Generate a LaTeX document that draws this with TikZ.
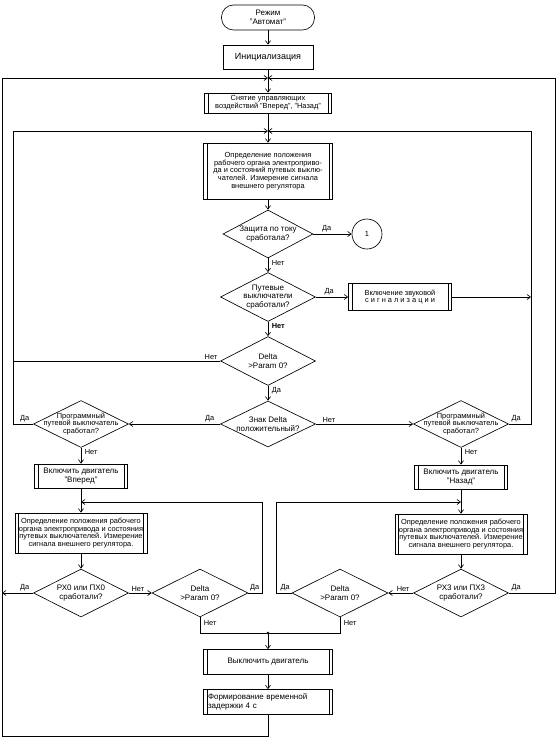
\documentclass[tikz,border=0pt]{standalone}
\usepackage{fontspec}
\setmainfont{Liberation Sans}
\usetikzlibrary{arrows.meta,shapes.geometric}
\newcommand\fsz{\fontsize{7.4}{7.8}\selectfont}
\newcommand\fszb{\fontsize{8}{8.6}\selectfont}
\begin{document}
\begin{tikzpicture}[x=1pt,y=-1pt, line width=0.65pt,
 arr/.style={-{Straight Barb[length=3.5pt,width=5pt]}},
 base/.style={draw, font=\fsz, align=center, inner sep=1pt},
 box/.style 2 args={base, rectangle, minimum width=#1, minimum height=#2},
 pp/.style 2 args={box={#1}{#2}, path picture={
   \draw ([xshift=3.5pt]path picture bounding box.north west) -- ([xshift=3.5pt]path picture bounding box.south west)
         ([xshift=-3.5pt]path picture bounding box.north east) -- ([xshift=-3.5pt]path picture bounding box.south east);}},
 dia/.style 2 args={draw, diamond, inner sep=0pt, minimum width=#1, minimum height=#2},
 dtxt/.style={font=\fsz, align=center, inner sep=0pt},
 lbl/.style={font=\fsz, inner sep=0.5pt},
]
\useasboundingbox (0,0) rectangle (558,739);
\fill[white] (0,0) rectangle (558,739);

% nodes
\node[base, rectangle, rounded corners=12pt, minimum width=93pt, minimum height=25pt, font=\fszb] (start) at (268,17.5) {Режим\\"Автомат"};
\node[box={90pt}{24pt}, font=\fontsize{9}{9.5}\selectfont] (init) at (268,57) {Инициализация};
\coordinate (j1) at (268,78);
\node[pp={127pt}{20pt}] (snyat) at (268,103) {Снятие управляющих\\воздействий "Вперед", "Назад"};
\coordinate (j2) at (268,131);
\node[pp={129pt}{56pt}] (opr) at (268,171) {Определение положения\\рабочего органа электроприво-\\да и состояний путевых выклю-\\чателей. Измерение сигнала\\внешнего регулятора};
\node[dia={90pt}{48pt}, label={[dtxt,font=\fszb]center:{Защита по току\\сработала?}}] (zashch) at (268,234) {};
\node[base, circle, minimum size=30pt] (c1) at (367,234) {1};
\node[dia={95pt}{49pt}, label={[dtxt,font=\fszb]center:{Путевые\\выключатели\\сработали?}}] (putev) at (268,297) {};
\node[pp={103pt}{27pt}] (vkl) at (400,297) {Включение звуковой\\с и г н а л и з а ц и и};
\node[dia={95pt}{49pt}, label={[dtxt,font=\fszb]center:{Delta\\>Param 0?}}] (delta) at (268,361) {};
\node[dia={95pt}{46pt}, label={[dtxt,font=\fszb]center:{Знак Delta\\положительный?}}] (znak) at (268,424) {};
\node[dia={95pt}{47pt}, label={[dtxt]center:{Программный\\путевой выключатель\\сработал?}}] (progL) at (81,424) {};
\node[dia={95pt}{47pt}, label={[dtxt]center:{Программный\\путевой выключатель\\сработал?}}] (progR) at (461,424) {};
\node[pp={93pt}{24pt}, font=\fszb] (vper) at (81,476) {Включить двигатель\\"Вперед"};
\node[pp={93pt}{24pt}, font=\fszb] (nazad) at (461,477) {Включить двигатель\\"Назад"};
\node[pp={132pt}{40pt}] (oprL) at (81,533) {Определение положения рабочего\\органа электропривода и состояния\\путевых выключателей. Измерение\\сигнала внешнего регулятора.};
\node[pp={132pt}{40pt}] (oprR) at (461,534) {Определение положения рабочего\\органа электропривода и состояния\\путевых выключателей. Измерение\\сигнала внешнего регулятора.};
\node[dia={95pt}{48pt}, label={[dtxt,font=\fszb]center:{РХ0 или ПХ0\\сработали?}}] (rx0) at (81,593) {};
\node[dia={96pt}{48pt}, label={[dtxt,font=\fszb]center:{Delta\\>Param 0?}}] (dL) at (200,593) {};
\node[dia={95pt}{48pt}, label={[dtxt,font=\fszb]center:{РХ3 или ПХ3\\сработали?}}] (rx3) at (461,593) {};
\node[dia={96pt}{48pt}, label={[dtxt,font=\fszb]center:{Delta\\>Param 0?}}] (dR) at (340,593) {};
\coordinate (j3) at (268,633);
\node[pp={129pt}{25pt}, font=\fszb] (off) at (268,662) {Выключить двигатель};
\node[pp={129pt}{25pt}, font=\fszb, align=left, text width=120pt] (delay) at (268,702) {Формирование временной\\задержки 4 с};

% loop corners
\coordinate (oBL) at (2,736);
\coordinate (oTR) at (555,78);
\coordinate (iTL) at (13,131);
\coordinate (iTR) at (531,131);
\coordinate (lbk) at (262,502);
\coordinate (rbk) at (276,502);

% connectors
\draw[arr] (start) -- (init);
\draw[arr] (init) -- (snyat);
\draw[arr] (delay.south) |- (oBL) |- (j1);
\draw[arr] (rx3.east) -| (oTR) -- (j1);
\draw[arr] (snyat) -- (opr);
\draw[arr] (progL.west) -| (iTL) -- (j2);
\draw[arr] (progR.east) -| (iTR) -- (j2);
\draw[arr] (opr) -- (zashch);
\draw[arr] (zashch) -- (c1);
\draw[arr] (zashch) -- (putev);
\draw[arr] (putev) -- (vkl);
\draw[arr] (vkl.east) -- (vkl.east -| iTR);
\draw[arr] (putev) -- (delta);
\draw (delta.west) -- (delta.west -| iTL);
\draw[arr] (delta) -- (znak);
\draw[arr] (znak.west) -- (progL.east);
\draw[arr] (znak.east) -- (progR.west);
\draw[arr] (progL) -- (vper);
\draw[arr] (progR) -- (nazad);
\draw[arr] (vper) -- (oprL);
\draw[arr] (nazad) -- (oprR);
\draw[arr] (oprL) -- (rx0);
\draw[arr] (oprR) -- (rx3);
\draw[arr] (rx0.west) -- (rx0.west -| oBL);
\draw[arr] (rx0.east) -- (dL.west);
\draw[arr] (rx3.west) -- (dR.east);
\draw[arr] (dL.east) -| (lbk) -- (lbk -| vper.south);
\draw[arr] (dR.west) -| (rbk) -- (rbk -| nazad.south);
\draw (dL.south) |- (j3);
\draw (dR.south) |- (j3);
\fill (j3) circle (1.3pt);
\draw[arr] (j3) -- (off);
\draw[arr] (off) -- (delay);

% branch labels
\node[lbl, anchor=south west] at ([xshift=8pt,yshift=1pt]zashch.east) {Да};
\node[lbl, anchor=north west] at ([xshift=3pt,yshift=-1pt]zashch.south) {Нет};
\node[lbl, anchor=south west] at ([xshift=8pt,yshift=1pt]putev.east) {Да};
\node[lbl, anchor=north west, font=\fsz\bfseries] at ([xshift=3pt,yshift=-1pt]putev.south) {Нет};
\node[lbl, anchor=south east] at ([xshift=-2pt,yshift=1pt]delta.west) {Нет};
\node[lbl, anchor=north west] at ([xshift=3pt,yshift=-1pt]delta.south) {Да};
\node[lbl, anchor=south east] at ([xshift=-5pt,yshift=1pt]znak.west) {Да};
\node[lbl, anchor=south west] at ([xshift=6pt,yshift=1pt]znak.east) {Нет};
\node[lbl, anchor=south east] at ([xshift=-3pt,yshift=1pt]progL.west) {Да};
\node[lbl, anchor=north west] at ([xshift=3pt,yshift=-1pt]progL.south) {Нет};
\node[lbl, anchor=south west] at ([xshift=2pt,yshift=1pt]progR.east) {Да};
\node[lbl, anchor=north west] at ([xshift=3pt,yshift=-1pt]progR.south) {Нет};
\node[lbl, anchor=south east] at ([xshift=-3pt,yshift=1pt]rx0.west) {Да};
\node[lbl, anchor=south west] at ([xshift=2pt,yshift=1pt]rx0.east) {Нет};
\node[lbl, anchor=south west] at ([xshift=1pt,yshift=1pt]dL.east) {Да};
\node[lbl, anchor=north west] at ([xshift=3pt,yshift=-2pt]dL.south) {Нет};
\node[lbl, anchor=south west] at ([xshift=2pt,yshift=1pt]rx3.east) {Да};
\node[lbl, anchor=south east] at ([xshift=-3pt,yshift=1pt]rx3.west) {Нет};
\node[lbl, anchor=south east] at ([xshift=-1pt,yshift=1pt]dR.west) {Да};
\node[lbl, anchor=north west] at ([xshift=3pt,yshift=-2pt]dR.south) {Нет};
\end{tikzpicture}
\end{document}
